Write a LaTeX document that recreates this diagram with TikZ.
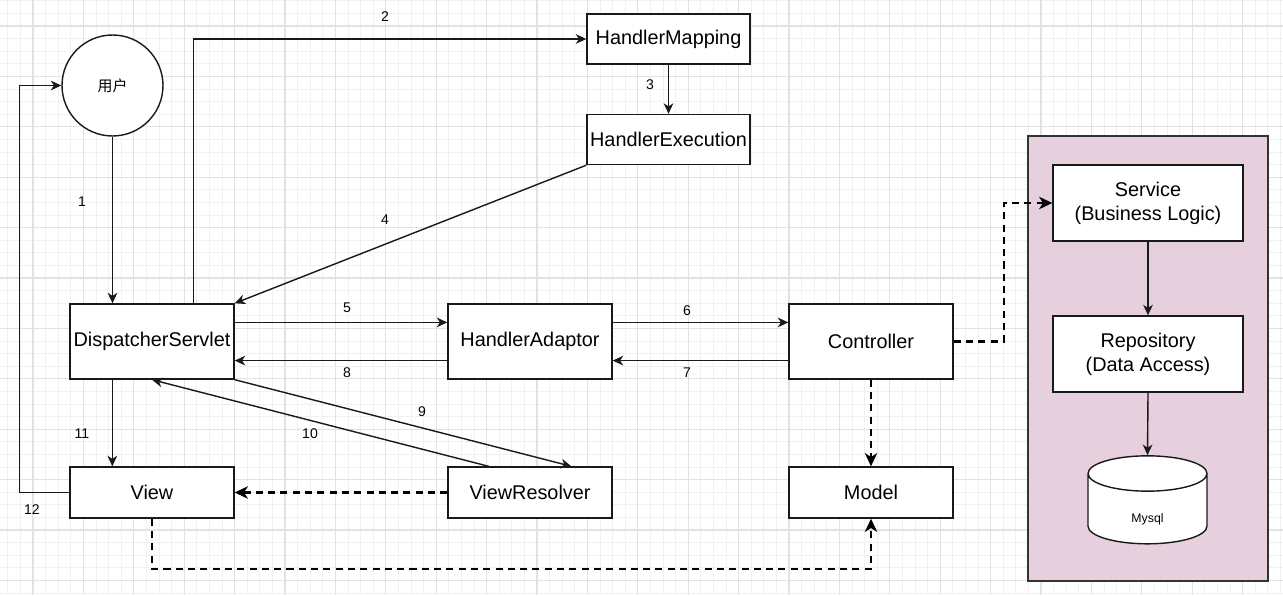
\documentclass[tikz,border=0pt]{standalone}
\usepackage{fontspec}
\setmainfont{Liberation Sans}
\newfontfamily\cjk{Noto Sans CJK SC}
\usetikzlibrary{arrows.meta,calc,shapes.geometric}

\definecolor{layerfill}{HTML}{E6D0DE}
\definecolor{gridmajor}{HTML}{E2E2E2}
\definecolor{gridminor}{HTML}{F1F1F1}

\begin{document}
\begin{tikzpicture}[x=0.02cm, y=-0.02cm, line join=miter]

	\tikzset{
	  box_node/.style    = {draw=black!90, line width=0.8pt, fill=white, minimum width=3.28cm,
	                        inner sep=0pt, font=\fontsize{11.3}{13.8}\selectfont, align=center},
	  tall_box/.style    = {box_node, minimum height=1.5cm},
	  flat_box/.style    = {box_node, minimum height=1.02cm},
	  step_label/.style  = {font=\fontsize{8}{9}\selectfont, inner sep=1pt},
	  flow_arrow/.style  = {draw=black!90, line width=0.8pt, -{Stealth[length=6pt,width=5.5pt,inset=1.8pt]}},
	  data_arrow/.style  = {draw=black, line width=1.3pt, dash pattern=on 4pt off 3pt,
	                        -{Stealth[length=7.5pt,width=7pt,inset=2.2pt]}},
	  minor_grid/.style  = {draw=gridminor, line width=0.5pt},
	  major_grid/.style  = {draw=gridmajor, line width=0.6pt}
	}

	\useasboundingbox (0,0) rectangle (1283,595);
	\fill[white] (0,0) rectangle (1283,595);

	% background grid
	\begin{scope}
		\clip (0,0) rectangle (1283,595);
		\foreach \i in {0,...,102}{
			\pgfmathsetmacro{\gx}{7.8+12.6*\i}
			\draw[minor_grid] (\gx,0) -- (\gx,595);
		}
		\foreach \i in {0,...,47}{
			\pgfmathsetmacro{\gy}{0.8+12.6*\i}
			\draw[minor_grid] (0,\gy) -- (1283,\gy);
		}
		\foreach \i in {0,...,25}{
			\pgfmathsetmacro{\gx}{33+50.4*\i}
			\draw[major_grid] (\gx,0) -- (\gx,595);
		}
		\foreach \i in {0,...,11}{
			\pgfmathsetmacro{\gy}{26+50.4*\i}
			\draw[major_grid] (0,\gy) -- (1283,\gy);
		}
	\end{scope}

	% nodes
	\node[circle, draw=black!90, line width=0.8pt, fill=white, minimum size=2.02cm, inner sep=0pt,
	      font=\cjk\fontsize{8.5}{10}\selectfont] (user) at (112.5,85.5) {用户};
	\node[flat_box, minimum width=3.26cm, minimum height=1.0cm] (mapping)   at (668.5,39)    {HandlerMapping};
	\node[flat_box, minimum width=3.26cm, minimum height=1.0cm] (execution) at (668.5,139.5) {HandlerExecution};
	\node[tall_box] (dispatcher) at (152,341.5) {DispatcherServlet};
	\node[tall_box] (adaptor)    at (530,341.5) {HandlerAdaptor};
	\node[tall_box] (controller) at (871,341.5) {Controller};
	\node[flat_box] (view)       at (152,492.5) {View};
	\node[flat_box] (resolver)   at (530,492.5) {ViewResolver};
	\node[flat_box] (model)      at (871,492.5) {Model};

	\node[draw=black!80, line width=0.8pt, fill=layerfill, minimum width=4.8cm, minimum height=8.9cm,
	      inner sep=0pt] (backend) at (1148,358.5) {};
	\node[box_node, minimum width=3.8cm, minimum height=1.52cm] (service)    at (1148,203) {Service\\(Business Logic)};
	\node[box_node, minimum width=3.8cm, minimum height=1.52cm] (repository) at (1148,354) {Repository\\(Data Access)};
	\node[cylinder, shape border rotate=90, aspect=1.1, draw=black!90, line width=0.8pt, fill=white,
	      minimum width=2.38cm, minimum height=1.76cm, inner sep=0pt,
	      font=\fontsize{7}{8}\selectfont] (mysql) at (1147.5,509) {\raisebox{-17pt}{Mysql}};

	% step labels
	\node[step_label] (s1)  at (82,202)  {1};
	\node[step_label] (s2)  at (385,17)  {2};
	\node[step_label] (s3)  at (650,85)  {3};
	\node[step_label] (s4)  at (385,220) {4};
	\node[step_label] (s5)  at (347,308) {5};
	\node[step_label] (s6)  at (687,311) {6};
	\node[step_label] (s7)  at (687,373) {7};
	\node[step_label] (s8)  at (347,373) {8};
	\node[step_label] (s9)  at (422,412) {9};
	\node[step_label] (s10) at (310,434) {10};
	\node[step_label] (s11) at (82,434)  {11};
	\node[step_label] (s12) at (32,510)  {12};

	% request flow
	\draw[flow_arrow] (user.south) -- (user.south |- dispatcher.north);
	\draw[flow_arrow] ($(dispatcher.north west)!0.75!(dispatcher.north east)$) |- (mapping.west);
	\draw[flow_arrow] (mapping) -- (execution);
	\draw[flow_arrow] (execution.south west) -- (dispatcher.north east);
	\draw[flow_arrow] ($(dispatcher.north east)!0.25!(dispatcher.south east)$) -- ($(adaptor.north west)!0.25!(adaptor.south west)$);
	\draw[flow_arrow] ($(adaptor.north east)!0.25!(adaptor.south east)$) -- ($(controller.north west)!0.25!(controller.south west)$);
	\draw[flow_arrow] ($(controller.north west)!0.75!(controller.south west)$) -- ($(adaptor.north east)!0.75!(adaptor.south east)$);
	\draw[flow_arrow] ($(adaptor.north west)!0.75!(adaptor.south west)$) -- ($(dispatcher.north east)!0.75!(dispatcher.south east)$);
	\draw[flow_arrow] (dispatcher.south east) -- ($(resolver.north west)!0.75!(resolver.north east)$);
	\draw[flow_arrow] ($(resolver.north west)!0.25!(resolver.north east)$) -- (dispatcher.south);
	\draw[flow_arrow] ($(dispatcher.south west)!0.26!(dispatcher.south east)$) -- ($(view.north west)!0.26!(view.north east)$);
	\draw[flow_arrow] (view.west) -- ++(-50,0) |- (user.west);

	% data flow
	\draw[data_arrow] (resolver.west) -- (view.east);
	\draw[data_arrow] (view.south) -- ++(0,50) -| (model.south);
	\draw[data_arrow] (controller.south) -- (model.north);
	\draw[data_arrow] (controller.east) -- ++(50,0) |- (service.west);

	% backend layers
	\draw[flow_arrow] (service) -- (repository);
	\draw[flow_arrow] (repository.south) -- (mysql.top);

\end{tikzpicture}
\end{document}
